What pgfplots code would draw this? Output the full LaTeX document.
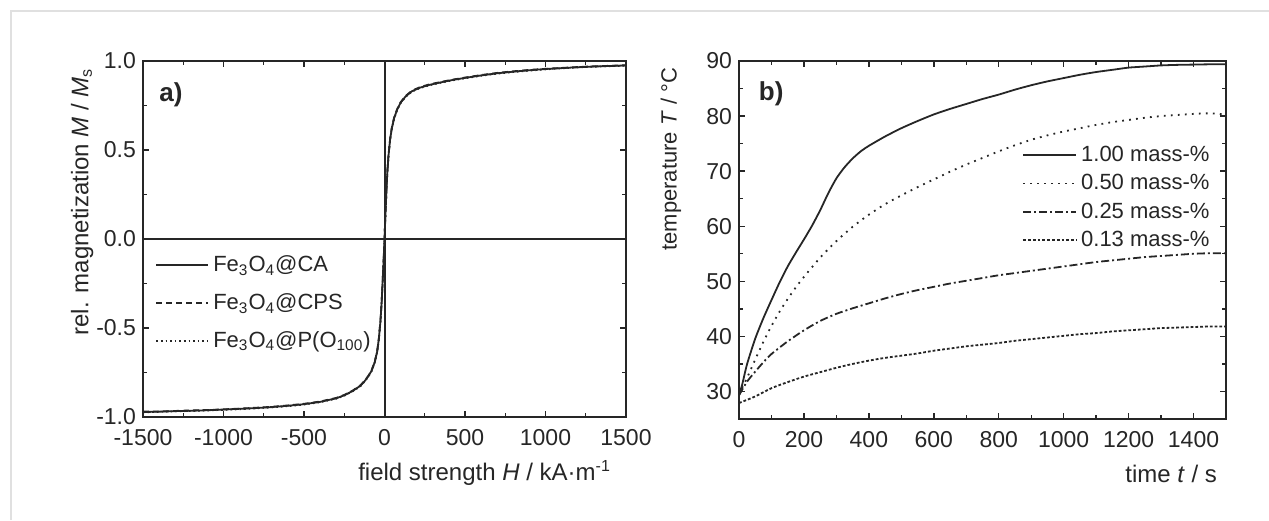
\documentclass[border=0pt]{standalone}
\usepackage{fontspec}
\setmainfont{Liberation Sans}
\usepackage{pgfplots}
\usepackage{pgfplotstable}
\pgfplotsset{compat=1.18}

\pgfplotstableread{
H M
-1500 -0.972
-1400 -0.970
-1300 -0.967
-1200 -0.965
-1100 -0.962
-1000 -0.958
-900 -0.954
-800 -0.950
-700 -0.944
-600 -0.937
-500 -0.928
-400 -0.915
-300 -0.895
-250 -0.878
-200 -0.855
-150 -0.825
-120 -0.795
-100 -0.770
-80 -0.740
-60 -0.690
-45 -0.630
-35 -0.560
-25 -0.460
-18 -0.360
-12 -0.250
-6 -0.130
0 0.000
6 0.140
12 0.270
18 0.380
25 0.470
35 0.560
45 0.620
60 0.680
80 0.730
100 0.765
130 0.800
170 0.830
220 0.850
280 0.866
350 0.880
420 0.893
500 0.905
600 0.919
700 0.931
800 0.940
900 0.948
1000 0.955
1100 0.960
1200 0.965
1300 0.969
1400 0.972
1500 0.975
}\tabCA

\pgfplotstableread{
H M
-1500 -0.970
-1400 -0.969
-1300 -0.966
-1200 -0.963
-1100 -0.961
-1000 -0.957
-900 -0.953
-800 -0.948
-700 -0.943
-600 -0.935
-500 -0.926
-400 -0.913
-300 -0.893
-250 -0.876
-200 -0.853
-150 -0.822
-120 -0.793
-100 -0.768
-80 -0.737
-60 -0.687
-45 -0.627
-35 -0.557
-25 -0.457
-18 -0.357
-12 -0.247
-6 -0.127
0 0.003
6 0.143
12 0.273
18 0.383
25 0.473
35 0.563
45 0.623
60 0.683
80 0.733
100 0.768
130 0.803
170 0.833
220 0.853
280 0.869
350 0.882
420 0.895
500 0.907
600 0.921
700 0.933
800 0.942
900 0.950
1000 0.956
1100 0.961
1200 0.966
1300 0.970
1400 0.973
1500 0.976
}\tabCPS

\pgfplotstableread{
H M
-1500 -0.974
-1400 -0.971
-1300 -0.968
-1200 -0.966
-1100 -0.963
-1000 -0.960
-900 -0.956
-800 -0.951
-700 -0.946
-600 -0.939
-500 -0.930
-400 -0.917
-300 -0.897
-250 -0.880
-200 -0.857
-150 -0.827
-120 -0.797
-100 -0.772
-80 -0.742
-60 -0.692
-45 -0.632
-35 -0.562
-25 -0.462
-18 -0.362
-12 -0.252
-6 -0.132
0 -0.002
6 0.138
12 0.268
18 0.378
25 0.468
35 0.558
45 0.618
60 0.678
80 0.728
100 0.763
130 0.798
170 0.828
220 0.848
280 0.864
350 0.878
420 0.891
500 0.903
600 0.917
700 0.929
800 0.938
900 0.946
1000 0.953
1100 0.959
1200 0.964
1300 0.968
1400 0.971
1500 0.974
}\tabPO

\pgfplotstableread{
t T
0 29.3
10 31.3
25 35.0
50 39.6
75 43.3
100 46.6
125 49.8
150 52.7
175 55.2
200 57.6
225 60.1
250 62.9
275 66.0
300 68.7
325 70.7
350 72.3
375 73.6
400 74.6
450 76.3
500 77.8
550 79.1
600 80.3
650 81.3
700 82.2
750 83.1
800 83.9
850 84.8
900 85.6
950 86.3
1000 86.9
1050 87.5
1100 88.0
1150 88.4
1200 88.8
1250 89.0
1300 89.2
1350 89.3
1400 89.35
1450 89.4
1500 89.4
}\tabA

\pgfplotstableread{
t T
0 29.5
25 32.5
50 35.8
75 39.0
100 41.9
125 44.5
150 46.8
175 48.9
200 50.8
250 54.3
300 57.3
350 59.9
400 62.1
450 64.0
500 65.6
550 67.1
600 68.5
650 69.9
700 71.2
750 72.4
800 73.6
850 74.7
900 75.7
950 76.5
1000 77.2
1050 77.8
1100 78.4
1150 78.9
1200 79.3
1250 79.7
1300 80.0
1350 80.2
1400 80.4
1450 80.5
1500 80.3
}\tabB

\pgfplotstableread{
t T
0 29.3
25 31.8
50 33.6
75 35.3
100 36.8
150 39.1
200 41.1
250 42.8
300 44.1
350 45.1
400 46.0
450 46.9
500 47.7
550 48.4
600 49.0
650 49.6
700 50.1
750 50.6
800 51.1
850 51.5
900 51.9
950 52.3
1000 52.7
1050 53.1
1100 53.5
1150 53.8
1200 54.1
1250 54.4
1300 54.6
1350 54.8
1400 55.0
1450 55.1
1500 55.1
}\tabC

\pgfplotstableread{
t T
0 27.9
50 29.1
100 30.6
150 31.7
200 32.7
250 33.5
300 34.3
350 35.0
400 35.6
450 36.1
500 36.5
550 36.9
600 37.4
650 37.8
700 38.2
750 38.5
800 38.8
850 39.2
900 39.5
950 39.8
1000 40.1
1050 40.4
1100 40.6
1150 40.9
1200 41.1
1250 41.3
1300 41.5
1350 41.6
1400 41.7
1450 41.8
1500 41.8
}\tabD

\definecolor{ink}{gray}{0.15}
\definecolor{framegray}{gray}{0.88}

\pgfplotsset{
  myaxis/.style={
    scale only axis,
    axis line style={line width=1.1pt, ink},
    tick style={line width=0.7pt, ink},
    tick align=inside,
    major tick length=3pt,
    minor tick length=1.8pt,
    ticklabel style={font=\fontsize{11.5}{13}\selectfont, text=ink},
    xticklabel style={yshift=-2.5pt},
    label style={font=\fontsize{12}{14}\selectfont, text=ink},
    /pgf/number format/assume math mode=true,
    /pgf/number format/1000 sep={},
    clip=false,
    legend cell align=left,
  },
}

\begin{document}
\begin{tikzpicture}
\path[use as bounding box] (0pt,0pt) rectangle (634.5pt,260pt);
\draw[framegray, line width=1.2pt] (5.5pt,0pt) -- (5.5pt,254.5pt) -- (634.5pt,254.5pt);

% Panel a
\begin{axis}[myaxis,
  at={(71.5pt,51.5pt)}, anchor=south west,
  width=241.5pt, height=178pt,
  xmin=-1500, xmax=1500, ymin=-1, ymax=1,
  xtick={-1500,-1000,...,1500},
  minor xtick={-1250,-750,...,1250},
  ytick={-1,-0.5,0,0.5,1},
  minor ytick={-0.75,-0.25,0.25,0.75},
  yticklabel style={/pgf/number format/.cd, fixed, fixed zerofill, precision=1},
  xlabel={field strength \textit{H} / kA·m\textsuperscript{-1}},
  xlabel style={at={(rel axis cs:1,-0.157)}, anchor=east, xshift=-4pt},
  ylabel={rel. magnetization \textit{M} / \textit{M}\textsubscript{s}},
  ylabel style={at={(rel axis cs:-0.126,1)}, anchor=east, rotate=0},
  legend style={at={(rel axis cs:0.025,0.465)}, anchor=north west, draw=none, fill=none,
    font=\fontsize{11}{13}\selectfont, text=ink, row sep=5.5pt, inner sep=0pt},
  legend image code/.code={\path (0pt,0pt) -- (26pt,0pt);\draw[#1, line width=0.9pt] (0pt,0pt) -- (23.5pt,0pt);},
]
\addplot[ink, line width=0.9pt] table[x=H,y=M] {\tabCA};
\addplot[ink, line width=0.9pt, dash pattern=on 3pt off 2pt] table[x=H,y=M] {\tabCPS};
\addplot[ink, line width=0.9pt, dash pattern=on 0.8pt off 1.5pt] table[x=H,y=M] {\tabPO};
\legend{Fe\textsubscript{3}O\textsubscript{4}@CA, Fe\textsubscript{3}O\textsubscript{4}@CPS, Fe\textsubscript{3}O\textsubscript{4}@P(O\textsubscript{100})}
\draw[ink, line width=1pt] (axis cs:0,-1) -- (axis cs:0,1);
\draw[ink, line width=1pt] (axis cs:-1500,0) -- (axis cs:1500,0);
\node[font=\bfseries\fontsize{13}{15}\selectfont, text=ink] at (rel axis cs:0.058,0.904) {a)};
\end{axis}

% Panel b
\begin{axis}[myaxis,
  at={(369.5pt,50.5pt)}, anchor=south west,
  width=243.5pt, height=179pt,
  xmin=0, xmax=1500, ymin=25, ymax=90,
  xtick={0,200,...,1400},
  minor xtick={100,300,...,1500},
  ytick={30,40,...,90},
  minor ytick={25,35,...,85},
  xlabel={time \textit{t} / s},
  xlabel style={at={(rel axis cs:1,-0.154)}, anchor=east, xshift=-1pt},
  ylabel={temperature \textit{T} / °C},
  ylabel style={at={(rel axis cs:-0.14,1)}, anchor=east, font=\fontsize{11}{13}\selectfont},
  legend style={at={(rel axis cs:0.581,0.775)}, anchor=north west, draw=none, fill=none,
    font=\fontsize{11}{13}\selectfont, text=ink, row sep=1pt, inner sep=0pt},
  legend image code/.code={\draw[#1, line width=0.9pt] (0pt,0pt) -- (26.5pt,0pt);},
]
\addplot[ink, line width=0.9pt, smooth, tension=0.4] table[x=t,y=T] {\tabA};
\addplot[ink, line width=0.9pt, dash pattern=on 0.9pt off 2.6pt, smooth, tension=0.4] table[x=t,y=T] {\tabB};
\addplot[ink, line width=0.9pt, dash pattern=on 4pt off 1.5pt on 1pt off 1.5pt, smooth, tension=0.4] table[x=t,y=T] {\tabC};
\addplot[ink, line width=0.9pt, dash pattern=on 1.4pt off 1pt, smooth, tension=0.4] table[x=t,y=T] {\tabD};
\legend{1.00 mass-\%, 0.50 mass-\%, 0.25 mass-\%, 0.13 mass-\%}
\node[font=\bfseries\fontsize{13}{15}\selectfont, text=ink] at (rel axis cs:0.066,0.908) {b)};
\end{axis}
\end{tikzpicture}
\end{document}
